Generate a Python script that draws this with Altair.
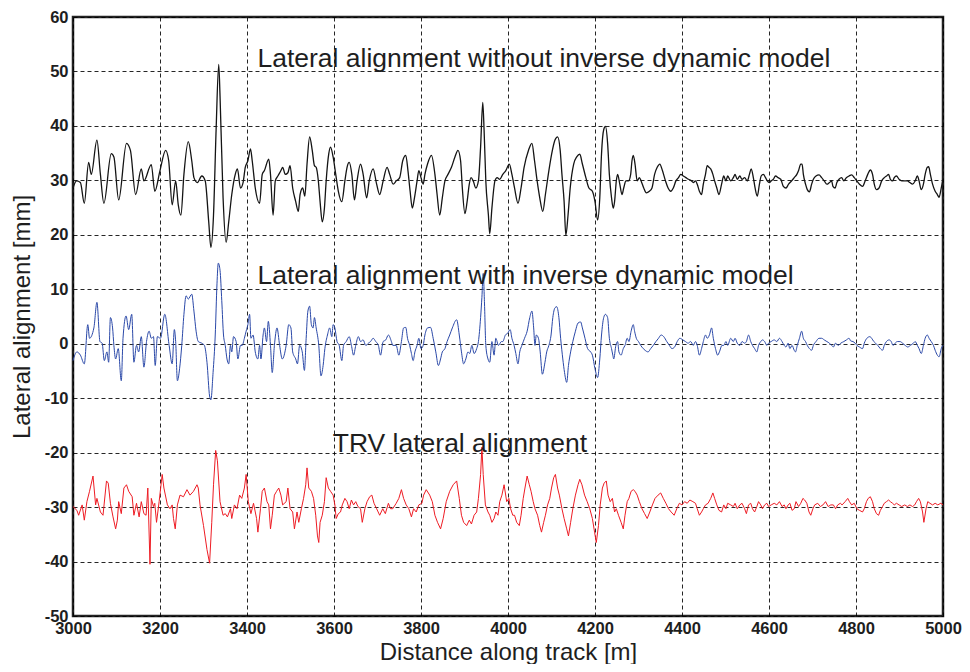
import altair as alt
import pandas as pd

# Distance along track [m] and lateral alignment [mm]
WITHOUT_MODEL = [
    (3000, 28.6), (3008, 29.9), (3017, 29.6), (3026, 25.8), (3036, 33.3), (3042, 31.1), (3055, 37.4),
    (3063, 31.1), (3071, 25.8), (3088, 34.9), (3094, 34.3), (3105, 26.4), (3123, 36.8), (3132, 35.5),
    (3144, 27.4), (3157, 32.1), (3163, 29.9), (3180, 32.9), (3188, 28.0), (3200, 31.8), (3213, 35.5),
    (3220, 33.6), (3228, 25.5), (3236, 29.9), (3242, 25.5), (3248, 23.6), (3255, 31.1), (3265, 37.1),
    (3273, 33.6), (3278, 30.5), (3286, 29.6), (3296, 30.8), (3304, 29.9), (3312, 22.4), (3317, 17.7),
    (3323, 23.6), (3329, 39.3), (3335, 51.3), (3338, 45.5), (3345, 26.8), (3352, 18.6), (3358, 22.4),
    (3365, 27.4), (3373, 31.1), (3378, 32.1), (3385, 28.6), (3391, 29.6), (3396, 32.4), (3402, 33.6),
    (3408, 35.8), (3412, 33.6), (3419, 28.6), (3429, 25.8), (3435, 31.1), (3440, 31.8), (3450, 33.9),
    (3454, 31.1), (3460, 23.6), (3465, 29.9), (3471, 30.8), (3478, 31.8), (3482, 32.4), (3488, 31.1),
    (3494, 31.4), (3499, 32.7), (3505, 28.6), (3512, 26.1), (3518, 24.3), (3522, 27.4), (3528, 28.6),
    (3533, 27.1), (3538, 33.0), (3544, 38.0), (3550, 35.5), (3555, 32.7), (3559, 32.4), (3564, 29.9),
    (3568, 26.1), (3573, 22.4), (3578, 24.9), (3582, 29.9), (3588, 34.9), (3592, 36.1), (3598, 34.3),
    (3604, 31.1), (3610, 28.0), (3618, 26.1), (3625, 29.9), (3630, 32.4), (3635, 33.3), (3641, 31.1),
    (3647, 26.4), (3653, 29.9), (3661, 33.0), (3667, 31.1), (3675, 26.8), (3681, 29.9), (3690, 32.1),
    (3698, 29.3), (3705, 27.4), (3713, 29.9), (3722, 32.4), (3728, 31.1), (3736, 29.3), (3743, 29.9),
    (3751, 30.5), (3758, 33.6), (3765, 34.6), (3770, 31.8), (3775, 28.0), (3780, 24.9), (3785, 26.8),
    (3791, 29.9), (3795, 31.8), (3800, 30.5), (3805, 29.3), (3809, 31.1), (3815, 33.0), (3824, 34.6),
    (3832, 31.1), (3837, 27.4), (3843, 23.6), (3849, 26.8), (3855, 29.9), (3862, 31.1), (3870, 32.4),
    (3878, 34.3), (3885, 35.5), (3891, 33.6), (3895, 28.6), (3901, 23.9), (3906, 26.1), (3911, 29.3),
    (3915, 30.5), (3920, 29.9), (3926, 28.6), (3932, 29.9), (3937, 36.1), (3942, 44.3), (3945, 39.3),
    (3949, 29.9), (3955, 23.6), (3958, 20.2), (3963, 24.9), (3970, 29.9), (3975, 30.5), (3981, 30.2),
    (3988, 31.1), (3995, 31.8), (4003, 33.0), (4009, 31.1), (4015, 28.6), (4023, 25.8), (4030, 28.6),
    (4037, 32.4), (4047, 35.5), (4055, 36.8), (4061, 33.6), (4067, 29.9), (4073, 26.8), (4080, 24.3),
    (4086, 27.4), (4094, 31.8), (4102, 35.5), (4108, 37.4), (4114, 38.0), (4120, 35.5), (4124, 31.1),
    (4129, 26.1), (4133, 19.9), (4138, 23.6), (4143, 28.6), (4151, 33.0), (4158, 34.3), (4165, 34.8),
    (4171, 33.0), (4179, 30.5), (4186, 28.6), (4194, 28.0), (4200, 26.1), (4206, 22.7), (4211, 26.8),
    (4215, 34.9), (4220, 39.3), (4224, 39.9), (4229, 36.8), (4233, 31.1), (4238, 26.8), (4242, 24.9),
    (4245, 26.1), (4249, 29.9), (4252, 31.1), (4257, 29.3), (4262, 27.4), (4266, 28.6), (4271, 29.9),
    (4277, 29.9), (4282, 31.1), (4285, 33.6), (4288, 34.6), (4292, 33.0), (4297, 29.9), (4302, 30.5),
    (4306, 29.9), (4312, 28.6), (4318, 27.7), (4325, 28.0), (4331, 28.6), (4337, 31.1), (4343, 32.4),
    (4349, 33.0), (4355, 31.8), (4362, 29.9), (4368, 28.6), (4374, 28.0), (4380, 28.6), (4386, 29.9),
    (4392, 30.5), (4397, 31.1), (4403, 30.8), (4409, 30.5), (4415, 30.2), (4422, 29.9), (4426, 29.6),
    (4431, 29.9), (4435, 29.3), (4440, 28.0), (4445, 27.4), (4449, 29.3), (4454, 31.1), (4458, 32.7),
    (4462, 32.4), (4466, 32.1), (4471, 31.1), (4475, 29.9), (4480, 28.6), (4485, 27.4), (4491, 29.3),
    (4496, 30.8), (4501, 29.9), (4505, 30.8), (4512, 29.9), (4518, 30.5), (4522, 31.1), (4527, 30.2),
    (4533, 30.8), (4538, 30.2), (4544, 30.5), (4550, 29.9), (4555, 31.1), (4559, 32.1), (4564, 30.5),
    (4568, 28.6), (4573, 27.1), (4578, 29.3), (4582, 30.8), (4587, 31.1), (4592, 30.5), (4596, 29.9),
    (4601, 29.6), (4605, 29.9), (4610, 30.2), (4615, 30.8), (4621, 30.5), (4627, 30.2), (4633, 28.9),
    (4639, 28.6), (4645, 29.3), (4652, 29.9), (4658, 30.5), (4664, 31.1), (4668, 31.8), (4673, 33.0),
    (4676, 33.0), (4679, 31.1), (4684, 29.3), (4688, 28.3), (4693, 27.9), (4698, 29.3), (4702, 30.2),
    (4708, 30.8), (4715, 31.0), (4721, 30.5), (4727, 29.9), (4733, 29.3), (4739, 29.6), (4744, 29.9),
    (4747, 28.9), (4752, 28.6), (4756, 29.6), (4761, 30.2), (4767, 30.5), (4772, 29.9), (4778, 30.5),
    (4784, 30.8), (4790, 31.0), (4796, 30.5), (4802, 29.9), (4808, 29.3), (4815, 28.9), (4821, 29.9),
    (4827, 31.1), (4833, 31.9), (4838, 31.1), (4842, 29.3), (4847, 28.3), (4853, 28.6), (4859, 29.9),
    (4865, 30.5), (4870, 30.8), (4875, 31.1), (4879, 30.2), (4884, 29.9), (4888, 30.5), (4893, 30.8),
    (4899, 30.2), (4905, 29.9), (4912, 29.9), (4918, 29.9), (4924, 29.6), (4930, 29.3), (4936, 29.9),
    (4941, 30.8), (4945, 29.9), (4950, 28.3), (4955, 29.3), (4959, 31.1), (4964, 32.4), (4967, 32.5),
    (4971, 31.1), (4976, 29.3), (4982, 28.0), (4987, 27.4), (4991, 26.9), (4996, 28.6), (5000, 30.2),
]

WITH_MODEL = [
    (3000, -3.1), (3009, -1.5), (3017, -2.1), (3026, -3.7), (3034, 3.5), (3038, 1.0), (3048, 2.9),
    (3055, 7.6), (3062, 0.4), (3067, 0.1), (3072, -3.1), (3078, -1.5), (3082, -3.4), (3086, 4.8),
    (3091, 2.9), (3094, -0.3), (3098, -2.8), (3104, -0.9), (3111, -6.8), (3115, 1.0), (3122, 5.1),
    (3128, 2.6), (3135, 5.4), (3140, -3.4), (3146, -0.3), (3151, -1.5), (3157, 1.3), (3163, -4.3),
    (3169, 0.4), (3175, 2.3), (3180, 1.0), (3185, 1.3), (3189, -4.0), (3194, 1.3), (3201, 1.0),
    (3211, 5.4), (3221, -0.3), (3228, -3.7), (3233, 2.6), (3236, 0.4), (3240, -6.8), (3245, -4.6),
    (3250, -0.3), (3255, 5.4), (3260, 8.8), (3265, 8.2), (3273, 9.1), (3278, 6.0), (3283, 2.3),
    (3288, 0.4), (3296, 0.1), (3302, -0.3), (3308, -3.4), (3314, -9.6), (3317, -10.3), (3322, -5.3),
    (3327, 1.6), (3331, 11.0), (3334, 14.8), (3338, 13.5), (3342, 7.9), (3346, 1.6), (3350, -0.3),
    (3354, -2.8), (3358, -3.7), (3362, -0.3), (3365, -1.5), (3369, 1.3), (3375, 0.4), (3379, -2.8),
    (3385, -0.3), (3389, -0.3), (3394, 1.0), (3398, 2.3), (3402, 3.5), (3406, 5.4), (3409, 1.0),
    (3414, 1.6), (3419, -1.5), (3425, -2.8), (3429, -0.3), (3432, -2.8), (3437, 1.6), (3440, 2.9),
    (3445, 0.4), (3449, 4.1), (3454, -0.3), (3458, -5.3), (3463, -0.3), (3469, 2.9), (3475, -0.3),
    (3481, -2.8), (3490, -0.3), (3496, 3.5), (3501, 2.9), (3505, -1.5), (3512, -2.8), (3516, -3.7),
    (3521, -0.3), (3527, -1.5), (3532, -4.9), (3536, 1.0), (3540, 6.0), (3544, 6.9), (3548, 3.5),
    (3552, 2.9), (3555, 4.8), (3559, 2.9), (3565, -0.3), (3570, -5.9), (3575, -4.0), (3579, -0.9),
    (3585, 1.6), (3590, 2.9), (3595, 1.3), (3598, 3.5), (3602, 2.9), (3607, 0.4), (3612, -0.3),
    (3618, -3.1), (3622, -0.3), (3628, 0.4), (3635, 1.3), (3640, -0.3), (3645, -2.1), (3650, -0.3),
    (3656, 1.3), (3661, 0.4), (3667, 0.7), (3673, -0.3), (3679, 0.1), (3684, 0.4), (3690, 1.0),
    (3696, 0.4), (3702, -0.3), (3707, -2.1), (3713, 0.4), (3719, 0.7), (3725, 1.6), (3732, 0.4),
    (3735, -0.3), (3743, -0.3), (3749, -2.1), (3755, 0.4), (3760, 2.9), (3765, 3.0), (3769, 1.0),
    (3774, -0.3), (3778, -1.8), (3782, -3.1), (3786, -1.5), (3791, -0.3), (3795, 1.0), (3800, -0.9),
    (3805, -0.3), (3809, 1.6), (3815, 2.9), (3822, 3.0), (3828, 1.0), (3834, -1.5), (3840, -4.0),
    (3845, -2.8), (3849, -1.5), (3855, -0.9), (3860, 0.4), (3866, 1.6), (3872, 2.9), (3882, 4.4),
    (3888, 1.6), (3893, -1.5), (3898, -3.7), (3903, -2.8), (3908, -1.5), (3912, -1.8), (3917, -0.3),
    (3922, -1.8), (3928, -0.9), (3932, 0.4), (3937, 4.8), (3940, 8.5), (3943, 12.9), (3946, 7.3),
    (3949, -0.3), (3954, -2.8), (3958, -3.4), (3963, 0.4), (3968, -2.1), (3972, 1.0), (3978, -0.3),
    (3985, 0.4), (3988, 0.4), (3994, 1.6), (3999, 1.9), (4005, 2.6), (4009, 1.0), (4014, -0.3),
    (4018, -1.8), (4023, -3.7), (4027, -1.5), (4032, -0.3), (4038, 1.0), (4044, 2.3), (4050, 4.8),
    (4055, 6.0), (4059, 2.9), (4062, -0.3), (4065, 1.6), (4070, 1.0), (4074, -1.5), (4079, -5.6),
    (4085, -3.4), (4089, -1.5), (4094, -0.3), (4099, 1.6), (4103, 4.8), (4108, 6.6), (4112, 6.8),
    (4117, 4.8), (4121, 1.0), (4126, -2.8), (4130, -5.3), (4135, -7.1), (4139, -4.0), (4144, -1.5),
    (4149, 0.4), (4155, 2.3), (4161, 3.8), (4167, 4.0), (4171, 2.9), (4177, 1.0), (4183, -0.9),
    (4190, -1.5), (4194, -2.1), (4200, -4.6), (4206, -6.2), (4211, -2.8), (4215, 1.6), (4220, 4.8),
    (4224, 5.4), (4229, 4.8), (4233, 1.0), (4238, -0.9), (4241, -2.1), (4243, -2.8), (4248, -0.3),
    (4252, 0.4), (4255, -1.5), (4260, -2.1), (4265, -0.9), (4269, -0.3), (4274, 1.0), (4278, 0.4),
    (4283, 2.3), (4288, 3.5), (4291, 2.3), (4295, 1.0), (4300, 0.4), (4305, -0.3), (4311, -0.9),
    (4315, -1.2), (4322, -1.5), (4328, -0.9), (4334, -0.3), (4340, 0.4), (4346, 1.0), (4352, 1.6),
    (4358, 1.3), (4365, 0.4), (4371, -0.3), (4377, -0.9), (4383, -0.6), (4389, 0.4), (4395, 1.0),
    (4402, 0.7), (4408, 0.4), (4414, 0.1), (4420, 0.4), (4426, -0.3), (4431, 0.4), (4435, -0.3),
    (4440, -2.1), (4445, -0.9), (4449, 0.4), (4454, 1.6), (4458, 1.0), (4463, 1.6), (4468, 2.9),
    (4472, 1.0), (4477, -0.9), (4482, -2.1), (4486, -1.5), (4492, -0.3), (4496, -0.3), (4501, 0.4),
    (4505, -0.3), (4512, 1.0), (4518, 0.4), (4522, 1.0), (4527, 0.1), (4533, -0.3), (4538, 0.4),
    (4544, 0.1), (4548, 0.4), (4553, 1.6), (4558, 0.4), (4562, -0.3), (4567, -0.9), (4572, -1.5),
    (4576, -0.3), (4581, 0.4), (4585, 0.7), (4590, 0.4), (4595, -0.3), (4599, 0.1), (4605, 0.4),
    (4612, 0.7), (4618, 0.4), (4624, 1.0), (4630, 0.4), (4635, -0.3), (4639, -0.6), (4644, 0.1),
    (4648, -0.9), (4653, -0.3), (4658, -1.2), (4661, -1.5), (4665, -0.3), (4670, 1.0), (4675, 2.3),
    (4679, 1.0), (4684, 0.4), (4688, -0.3), (4693, -0.9), (4698, -1.2), (4702, -0.3), (4708, 0.4),
    (4715, 1.0), (4721, 1.0), (4727, 0.7), (4733, 0.4), (4739, 0.1), (4744, -0.3), (4748, -0.6),
    (4753, 0.1), (4759, -0.3), (4765, 0.1), (4772, 0.4), (4778, 0.7), (4784, 1.0), (4788, 0.5),
    (4793, 0.4), (4798, 0.1), (4802, -0.3), (4808, -0.6), (4815, -0.9), (4819, 0.1), (4825, 1.0),
    (4832, 1.3), (4836, 1.0), (4841, 0.4), (4845, 0.1), (4850, -0.3), (4856, -0.9), (4861, -1.2),
    (4865, -0.3), (4870, 0.4), (4876, 0.7), (4881, 0.4), (4885, -0.3), (4890, 0.1), (4895, 0.4),
    (4901, 0.4), (4907, 0.1), (4913, -0.3), (4919, -0.6), (4925, -0.3), (4932, 0.1), (4936, 0.4),
    (4941, -0.3), (4945, -0.9), (4950, -1.8), (4955, -0.3), (4959, 1.0), (4964, 1.6), (4968, 1.0),
    (4973, 0.4), (4978, -0.3), (4982, -1.2), (4987, -2.1), (4991, -2.4), (4996, -0.9), (5000, -0.3),
]

TRV = [
    (3000, -29.9), (3009, -30.6), (3013, -31.5), (3021, -29.6), (3026, -32.4), (3032, -29.0), (3038, -27.1),
    (3046, -24.3), (3052, -29.6), (3055, -28.4), (3063, -30.9), (3069, -31.5), (3077, -25.2), (3081, -25.6),
    (3086, -29.3), (3092, -31.8), (3098, -34.0), (3102, -32.4), (3105, -29.0), (3111, -31.2), (3117, -26.5),
    (3123, -25.9), (3128, -27.1), (3136, -28.1), (3140, -31.5), (3146, -29.3), (3152, -31.8), (3157, -29.0),
    (3163, -31.2), (3168, -31.5), (3172, -26.5), (3177, -40.5), (3180, -28.4), (3185, -29.9), (3188, -29.3),
    (3192, -32.8), (3198, -29.0), (3205, -24.0), (3209, -26.5), (3217, -29.6), (3223, -30.3), (3228, -29.6),
    (3231, -32.1), (3235, -34.0), (3240, -29.6), (3246, -27.8), (3254, -28.1), (3262, -26.8), (3269, -27.8),
    (3277, -27.1), (3285, -25.9), (3288, -26.5), (3292, -29.6), (3300, -33.4), (3308, -37.8), (3314, -40.3),
    (3319, -32.8), (3323, -25.9), (3328, -19.6), (3332, -21.5), (3338, -29.0), (3345, -31.5), (3350, -31.2),
    (3355, -31.8), (3362, -30.3), (3365, -32.1), (3371, -29.6), (3377, -30.3), (3383, -27.8), (3388, -28.4),
    (3394, -26.5), (3398, -24.0), (3403, -29.0), (3409, -31.2), (3415, -29.3), (3422, -32.1), (3425, -34.6),
    (3431, -30.3), (3435, -27.1), (3440, -26.5), (3446, -29.0), (3450, -29.6), (3454, -34.0), (3458, -31.5),
    (3463, -27.8), (3468, -27.1), (3473, -26.5), (3478, -27.8), (3482, -29.6), (3490, -29.0), (3494, -26.5),
    (3499, -30.3), (3505, -30.9), (3509, -34.0), (3515, -30.9), (3519, -32.8), (3525, -30.3), (3530, -28.4),
    (3535, -25.9), (3538, -22.8), (3542, -26.5), (3548, -27.1), (3553, -28.4), (3558, -31.5), (3562, -35.3),
    (3565, -36.5), (3568, -32.8), (3573, -31.5), (3578, -29.0), (3582, -24.6), (3587, -26.5), (3592, -27.1),
    (3598, -27.8), (3602, -29.6), (3605, -32.1), (3610, -31.2), (3615, -30.9), (3619, -29.6), (3625, -28.4),
    (3630, -29.0), (3635, -30.3), (3640, -28.7), (3645, -29.6), (3650, -29.0), (3655, -29.9), (3661, -30.3),
    (3665, -32.8), (3671, -30.3), (3676, -29.0), (3682, -28.1), (3687, -27.8), (3692, -29.3), (3698, -30.3),
    (3705, -31.5), (3712, -30.3), (3718, -31.2), (3725, -29.3), (3730, -30.3), (3735, -30.3), (3743, -29.3),
    (3749, -28.4), (3755, -26.8), (3760, -28.4), (3766, -29.6), (3772, -30.3), (3778, -31.8), (3783, -30.3),
    (3789, -30.9), (3795, -29.6), (3802, -29.3), (3806, -27.8), (3812, -26.8), (3820, -27.8), (3826, -29.0),
    (3832, -31.5), (3838, -32.8), (3845, -34.0), (3851, -32.1), (3858, -29.0), (3866, -27.1), (3874, -25.9),
    (3882, -25.2), (3888, -28.4), (3893, -31.5), (3898, -32.8), (3905, -33.4), (3911, -32.4), (3916, -33.1),
    (3922, -31.5), (3928, -30.9), (3932, -28.4), (3937, -24.0), (3940, -19.0), (3943, -24.0), (3948, -29.6),
    (3954, -30.9), (3958, -31.5), (3963, -32.8), (3968, -32.1), (3972, -30.9), (3977, -31.5), (3981, -29.0),
    (3986, -27.8), (3991, -25.9), (3997, -29.0), (4002, -28.4), (4006, -30.3), (4011, -31.5), (4015, -31.5),
    (4020, -32.8), (4026, -33.4), (4030, -31.5), (4035, -28.4), (4039, -26.5), (4044, -24.3), (4049, -25.9),
    (4053, -27.1), (4058, -29.0), (4062, -30.3), (4068, -31.5), (4073, -33.4), (4077, -34.6), (4082, -32.8),
    (4086, -31.5), (4091, -29.6), (4096, -28.4), (4100, -26.5), (4105, -24.6), (4109, -24.0), (4114, -26.5),
    (4118, -27.8), (4124, -30.3), (4129, -32.1), (4135, -34.0), (4139, -35.3), (4144, -32.8), (4149, -30.3),
    (4155, -27.8), (4161, -25.9), (4165, -24.9), (4170, -25.9), (4176, -27.8), (4182, -29.0), (4188, -30.3),
    (4194, -32.1), (4199, -34.6), (4203, -36.5), (4208, -33.4), (4212, -29.6), (4217, -26.5), (4221, -25.6),
    (4226, -25.2), (4230, -27.8), (4235, -29.0), (4240, -28.4), (4245, -30.9), (4249, -30.3), (4254, -31.5),
    (4260, -32.8), (4265, -34.0), (4269, -31.5), (4274, -29.0), (4278, -28.4), (4283, -27.1), (4288, -26.8),
    (4292, -27.1), (4297, -27.8), (4302, -29.0), (4308, -30.3), (4314, -31.2), (4320, -32.1), (4326, -30.9),
    (4332, -29.6), (4338, -28.4), (4345, -27.8), (4351, -27.4), (4357, -28.4), (4363, -29.3), (4369, -30.3),
    (4375, -30.9), (4382, -31.5), (4388, -30.3), (4394, -29.3), (4400, -29.6), (4406, -29.0), (4412, -29.3),
    (4418, -28.7), (4425, -29.0), (4431, -29.3), (4435, -30.3), (4440, -31.5), (4445, -30.9), (4449, -30.3),
    (4454, -29.6), (4460, -29.3), (4466, -28.4), (4471, -27.4), (4475, -28.4), (4480, -29.6), (4485, -30.6),
    (4491, -30.9), (4496, -29.6), (4501, -30.3), (4505, -29.3), (4512, -29.6), (4518, -29.9), (4522, -29.3),
    (4527, -30.3), (4533, -29.6), (4538, -29.3), (4544, -30.3), (4548, -31.2), (4553, -29.6), (4558, -29.3),
    (4562, -30.3), (4567, -30.9), (4572, -29.9), (4576, -29.0), (4581, -29.6), (4585, -30.3), (4590, -29.6),
    (4595, -29.3), (4599, -29.9), (4605, -29.6), (4612, -29.3), (4618, -29.6), (4624, -29.0), (4630, -29.9),
    (4635, -29.6), (4639, -30.3), (4644, -29.6), (4648, -29.3), (4653, -30.6), (4658, -30.3), (4662, -29.0),
    (4668, -29.9), (4673, -29.3), (4678, -28.4), (4682, -28.7), (4687, -29.3), (4692, -30.9), (4696, -31.5),
    (4701, -30.3), (4705, -29.6), (4712, -29.3), (4718, -29.9), (4724, -29.6), (4730, -29.0), (4736, -29.9),
    (4742, -29.6), (4748, -29.6), (4753, -30.3), (4758, -29.6), (4764, -29.3), (4768, -29.6), (4775, -29.0),
    (4781, -28.4), (4785, -29.0), (4790, -29.6), (4796, -29.3), (4802, -30.3), (4808, -30.6), (4815, -30.9),
    (4819, -30.3), (4824, -29.0), (4828, -28.4), (4833, -28.1), (4838, -29.0), (4842, -30.3), (4847, -31.2),
    (4852, -31.5), (4856, -30.6), (4861, -29.9), (4865, -29.3), (4870, -29.0), (4875, -28.7), (4879, -29.0),
    (4884, -29.3), (4888, -29.6), (4893, -29.3), (4899, -29.6), (4905, -29.9), (4912, -29.6), (4918, -29.9),
    (4924, -29.6), (4930, -29.9), (4935, -29.6), (4939, -29.0), (4944, -28.4), (4948, -29.0), (4953, -30.9),
    (4956, -32.8), (4961, -30.3), (4965, -29.0), (4970, -29.3), (4976, -29.6), (4982, -29.3), (4988, -29.6),
    (4995, -29.3), (5000, -29.6),
]

SERIES_NAMES = ["without", "with", "trv"]
SERIES_COLORS = ["#141414", "#2a48a8", "#ee1c24"]
SERIES_WIDTHS = [1.3, 1.0, 1.0]
SERIES_INTERP = ["monotone", "monotone", "linear"]

LABEL_TEXTS = [
    "Lateral alignment without inverse dynamic model",
    "Lateral alignment with inverse dynamic model",
    "TRV lateral alignment",
]
LABEL_X = [3424, 3424, 3597]
LABEL_Y = [50.9, 11.0, -19.8]

X_TICKS = list(range(3000, 5001, 200))
Y_TICKS = list(range(-50, 61, 10))

FONT = "Liberation Sans"
TEXT_COLOR = "#1e1e1e"
PLOT_W = 870
PLOT_H = 599

x_scale = alt.Scale(domain=[3000, 5000], nice=False, zero=False)
y_scale = alt.Scale(domain=[-50, 60], nice=False, zero=False)

x_axis = alt.Axis(
    title="Distance along track [m]",
    values=X_TICKS,
    labelExpr="'' + datum.value",
    grid=True,
    gridDash=[4, 3],
    gridColor="#000000",
    gridWidth=1,
    gridOpacity=0.85,
    ticks=False,
    domain=False,
    labelFont=FONT,
    labelFontSize=16.5,
    labelFontWeight="bold",
    labelColor=TEXT_COLOR,
    labelPadding=4,
    labelFlush=False,
    titleFont=FONT,
    titleFontSize=24,
    titleFontWeight="normal",
    titleColor=TEXT_COLOR,
    titleX=PLOT_W / 2,
    titleY=43,
    titleAlign="center",
    titleBaseline="alphabetic",
)
y_axis = alt.Axis(
    title="Lateral alignment [mm]",
    values=Y_TICKS,
    labelExpr="'' + datum.value",
    grid=True,
    gridDash=[4, 3],
    gridColor="#000000",
    gridWidth=1,
    gridOpacity=0.85,
    ticks=False,
    domain=False,
    labelFont=FONT,
    labelFontSize=16.5,
    labelFontWeight="bold",
    labelColor=TEXT_COLOR,
    labelPadding=5,
    labelFlush=False,
    titleFont=FONT,
    titleFontSize=24,
    titleFontWeight="normal",
    titleColor=TEXT_COLOR,
    titlePadding=10,
)

layers = []
for i, (name, pts) in enumerate(zip(SERIES_NAMES, [WITHOUT_MODEL, WITH_MODEL, TRV])):
    sdf = pd.DataFrame(pts, columns=["distance", "value"])
    layers.append(
        alt.Chart(sdf)
        .mark_line(
            color=SERIES_COLORS[i],
            strokeWidth=SERIES_WIDTHS[i],
            interpolate=SERIES_INTERP[i],
        )
        .encode(
            x=alt.X("distance:Q", scale=x_scale, axis=x_axis),
            y=alt.Y("value:Q", scale=y_scale, axis=y_axis),
        )
    )

labels_df = pd.DataFrame({"distance": LABEL_X, "value": LABEL_Y, "text": LABEL_TEXTS})
texts = alt.Chart(labels_df).mark_text(
    align="left",
    baseline="alphabetic",
    font=FONT,
    fontSize=26.5,
    color=TEXT_COLOR,
).encode(
    x=alt.X("distance:Q", scale=x_scale, axis=x_axis),
    y=alt.Y("value:Q", scale=y_scale, axis=y_axis),
    text="text:N",
)
layers.append(texts)

chart = (
    alt.layer(*layers)
    .properties(
        width=PLOT_W,
        height=PLOT_H,
        autosize=alt.AutoSizeParams(type="none"),
        padding={"left": 65, "top": 9, "right": 19, "bottom": 48},
        background="white",
    )
    .configure_view(stroke="#222222", strokeWidth=2.5)
)

chart.save("out.html", embed_options={"renderer": "svg", "actions": False})
